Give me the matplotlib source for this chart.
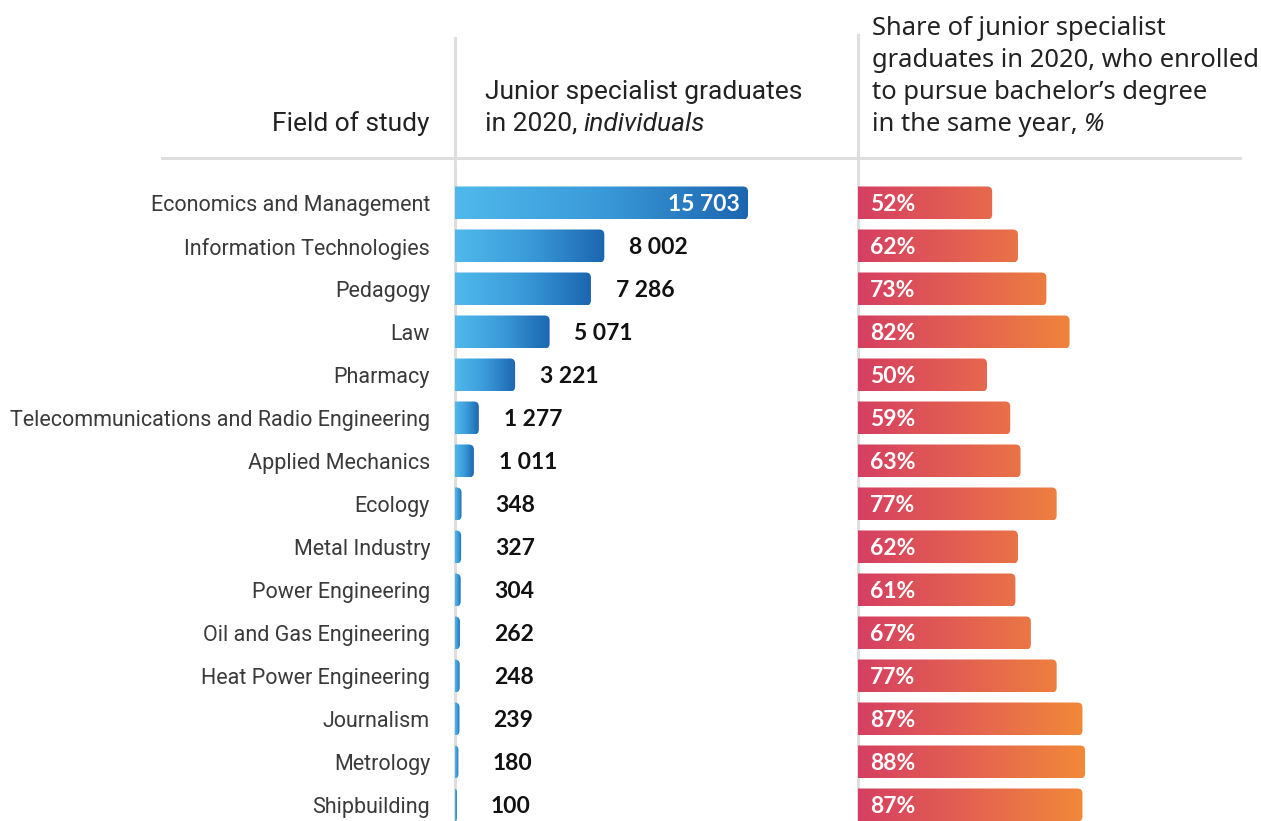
import numpy as np
import matplotlib
matplotlib.use('Agg')
import matplotlib.pyplot as plt
from matplotlib.patches import FancyBboxPatch
from matplotlib.colors import LinearSegmentedColormap
from matplotlib.lines import Line2D

fields = ["Economics and Management", "Information Technologies", "Pedagogy", "Law",
          "Pharmacy", "Telecommunications and Radio Engineering", "Applied Mechanics",
          "Ecology", "Metal Industry", "Power Engineering", "Oil and Gas Engineering",
          "Heat Power Engineering", "Journalism", "Metrology", "Shipbuilding"]
graduates = [15703, 8002, 7286, 5071, 3221, 1277, 1011, 348, 327, 304, 262, 248, 239, 180, 100]
share = [52, 62, 73, 82, 50, 59, 63, 77, 62, 61, 67, 77, 87, 88, 87]

W, H = 1261, 821
fig = plt.figure(figsize=(W / 100, H / 100), dpi=100)
fig.patch.set_facecolor('white')


def fx(px):
    return px / W


def fy(py):
    return 1 - py / H


COND = ['Roboto', 'DejaVu Sans']
REG = ['Noto Sans', 'DejaVu Sans']
NUM = ['Lato', 'DejaVu Sans']
GRID = '#dedede'

row0, step = 203, 43
top_px, bot_px = 160, 821
n = len(fields)
ylim = ((bot_px - row0) / step, (top_px - row0) / step)

# axes
l1, r1 = 455, 858
ax1 = fig.add_axes([fx(l1), fy(bot_px), (r1 - l1) / W, (bot_px - top_px) / H])
px_per_unit1 = (748 - 455) / 15703.0
xmax1 = (r1 - l1) / px_per_unit1

l2, r2 = 858, 1261
ax2 = fig.add_axes([fx(l2), fy(bot_px), (r2 - l2) / W, (bot_px - top_px) / H])
px_per_unit2 = 2.58
xmax2 = (r2 - l2) / px_per_unit2

blue = LinearSegmentedColormap.from_list('b', ['#50b9eb', '#3a9ad9', '#1c66b0'])
red = LinearSegmentedColormap.from_list('r', ['#d63f62', '#e4644f', '#f28b38'])

bar_h = 33 / step
ypp = 1.0 / step


def grad_bar(ax, y, v, cmap, xpp, span=None, r_px=5):
    r = r_px * xpp
    x0 = -r
    w = v + r
    rs = min(r, w / 2.0)
    aspect = ypp / xpp
    patch = FancyBboxPatch((x0, y - bar_h / 2), w, bar_h,
                           boxstyle=f"round,pad=0,rounding_size={rs}",
                           mutation_aspect=aspect, transform=ax.transData,
                           facecolor='none', edgecolor='none')
    xend = v if span is None else span
    grad = np.linspace(0, 1, 256).reshape(1, -1)
    im = ax.imshow(grad, cmap=cmap, aspect='auto', interpolation='bilinear',
                   extent=(0, xend, y + bar_h / 2, y - bar_h / 2), zorder=2)
    im.set_clip_path(patch)


DY = -1.5 * 0.72
for i, v in enumerate(graduates):
    grad_bar(ax1, i, v, blue, 1 / px_per_unit1)
    lab = f"{v:,}".replace(',', ' ')
    if i == 0:
        ax1.annotate(lab, (v, i), xytext=(-8 * 0.72, DY),
                     textcoords='offset points', ha='right', va='center',
                     color='white', fontsize=16.5, family=NUM, fontweight='bold', zorder=5)
    else:
        ax1.annotate(lab, (v, i), xytext=(54 * 0.72, DY),
                     textcoords='offset points', ha='center', va='center',
                     color='#111111', fontsize=16.5, family=NUM, fontweight='bold', zorder=5)

for i, s in enumerate(share):
    grad_bar(ax2, i, s, red, 1 / px_per_unit2, span=90)
    ax2.annotate(f"{s}%", (0, i), xytext=(12 * 0.72, DY), textcoords='offset points',
                 ha='left', va='center', color='white', fontsize=16.5, family=NUM,
                 fontweight='bold', zorder=5)

for ax, xm in ((ax1, xmax1), (ax2, xmax2)):
    ax.set_xlim(0, xm)
    ax.set_ylim(*ylim)
    ax.patch.set_visible(False)
    for sp in ax.spines.values():
        sp.set_visible(False)
    ax.set_xticks([])

ax1.set_yticks(range(n))
ax1.set_yticklabels(fields, fontsize=15.5, color='#3a3a3a', family=COND)
ax1.tick_params(axis='y', length=0, pad=18)
ax2.set_yticks([])

# grid lines
fig.add_artist(Line2D([fx(455), fx(455)], [fy(38), fy(821)], color=GRID, lw=2.2,
                      transform=fig.transFigure, zorder=-1))
fig.add_artist(Line2D([fx(858), fx(858)], [fy(35), fy(821)], color=GRID, lw=2.2,
                      transform=fig.transFigure, zorder=-1))
fig.add_artist(Line2D([fx(162), fx(1240)], [fy(158), fy(158)], color=GRID, lw=2.2,
                      transform=fig.transFigure, zorder=-1))

# headers
hc = '#222222'
HS = 19
fig.text(fx(430), fy(131), "Field of study", ha='right', va='baseline', fontsize=HS,
         color=hc, family=COND)
fig.text(fx(485), fy(99), "Junior specialist graduates", ha='left', va='baseline',
         fontsize=HS, color=hc, family=COND)
t = fig.text(fx(485), fy(131), "in 2020, ", ha='left', va='baseline', fontsize=HS,
             color=hc, family=COND)
fig.canvas.draw()
bb = t.get_window_extent()
fig.text(bb.x1 / W, fy(131), "individuals", ha='left', va='baseline', fontsize=HS,
         color=hc, family=COND, style='italic')

RS = 18.4
rlines = ["Share of junior specialist", "graduates in 2020, who enrolled",
          "to pursue bachelor\u2019s degree"]
for k, line in enumerate(rlines):
    fig.text(fx(872), fy(35 + 32 * k), line, ha='left', va='baseline', fontsize=RS,
             color=hc, family=REG)
t2 = fig.text(fx(872), fy(131), "in the same year, ", ha='left', va='baseline',
              fontsize=RS, color=hc, family=REG)
fig.canvas.draw()
bb2 = t2.get_window_extent()
fig.text(bb2.x1 / W, fy(131), "%", ha='left', va='baseline', fontsize=RS,
         color=hc, family=REG, style='italic')

fig.savefig('out.png', dpi=100, facecolor='white')
